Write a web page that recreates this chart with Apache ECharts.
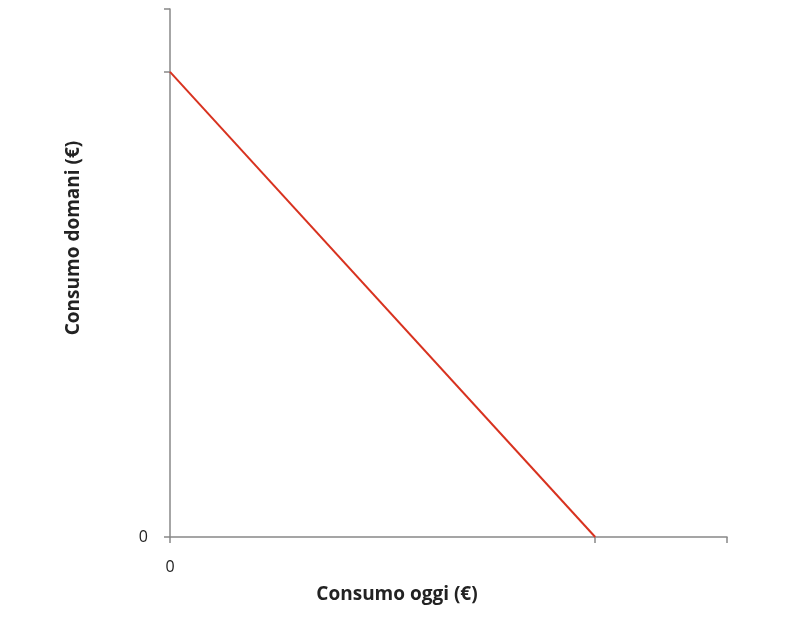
<!DOCTYPE html>
<html><head><meta charset="utf-8">
<script src="https://cdn.jsdelivr.net/npm/echarts@6/dist/echarts.min.js"></script>
<style>html,body{margin:0;padding:0;background:#fff}#c{width:809px;height:618px}</style>
</head><body><div id="c"></div>
<script>
// Budget constraint: consumption today (x) vs consumption tomorrow (y)
const lineX = [0, 100];
const lineY = [100, 0];
const xTicks = [0, 100, 131];
const yTicks = [0, 100, 113.5];
const xMax = 131;
const yMax = 113.5;
const xLabels = ['0'];
const yLabels = ['0'];
const xTitle = 'Consumo oggi (€)';
const yTitle = 'Consumo domani (€)';

const chart = echarts.init(document.getElementById('c'));
const axisColor = '#888888';
const titleStyle = { fontFamily: 'Open Sans', fontWeight: 'bold', fontSize: 19, fill: '#222' };
chart.setOption({
  animation: false,
  backgroundColor: '#ffffff',
  grid: { left: 170, top: 9, right: 82, bottom: 81, containLabel: false },
  xAxis: {
    type: 'value', min: 0, max: xMax,
    splitLine: { show: false },
    axisLine: { show: true, onZero: false, lineStyle: { color: axisColor, width: 1.5 } },
    axisTick: { show: true, length: 6, customValues: xTicks, lineStyle: { color: axisColor, width: 1.5 } },
    axisLabel: { show: true, customValues: [0], formatter: () => xLabels[0], margin: 22, fontFamily: 'Open Sans', fontSize: 16, color: '#222' }
  },
  yAxis: {
    type: 'value', min: 0, max: yMax,
    splitLine: { show: false },
    axisLine: { show: true, onZero: false, lineStyle: { color: axisColor, width: 1.5 } },
    axisTick: { show: true, length: 6, customValues: yTicks, lineStyle: { color: axisColor, width: 1.5 } },
    axisLabel: { show: true, customValues: [0], formatter: () => yLabels[0], margin: 22, fontFamily: 'Open Sans', fontSize: 16, color: '#222' }
  },
  graphic: [
    { type: 'text', x: 397, y: 595, style: Object.assign({ text: xTitle, align: 'center', verticalAlign: 'middle' }, titleStyle) },
    { type: 'text', x: 74, y: 238, rotation: Math.PI / 2, style: Object.assign({ text: yTitle, align: 'center', verticalAlign: 'middle' }, titleStyle) }
  ],
  series: [{
    type: 'line',
    data: lineX.map((x, i) => [x, lineY[i]]),
    symbol: 'none',
    lineStyle: { color: '#d8321f', width: 2 }
  }]
});
</script></body></html>
